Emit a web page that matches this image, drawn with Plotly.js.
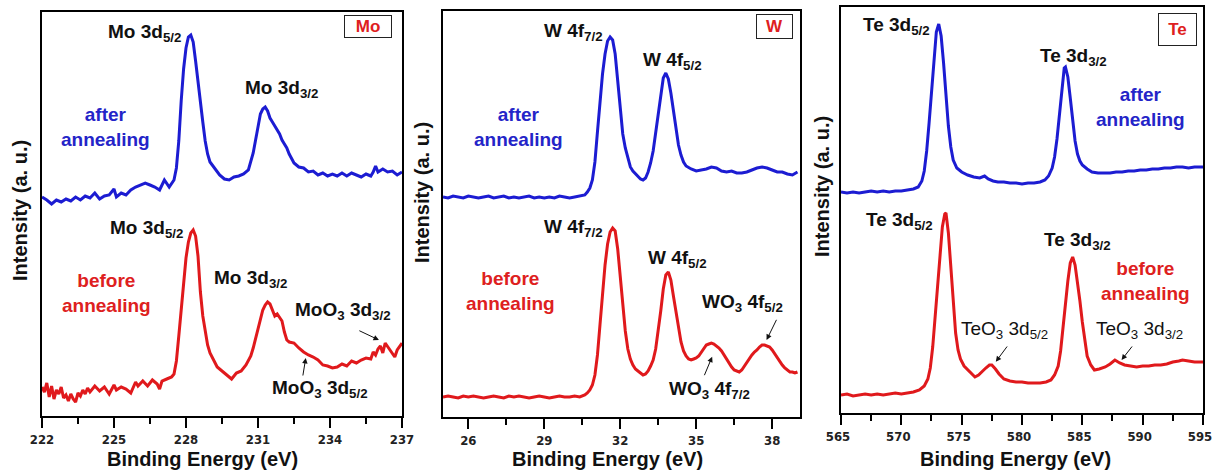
<!DOCTYPE html>
<html>
<head>
<meta charset="utf-8">
<script src="https://cdn.plot.ly/plotly-3.0.1.min.js"></script>
<style>
  html, body { margin: 0; padding: 0; background: #fff; }
  #chart { width: 1212px; height: 471px; }
</style>
</head>
<body>
<div id="chart"></div>
<script>
// ---- Mo 3d region (binding energy in eV, intensity in arbitrary units) ----
const moAfterEnergy = [222.0,222.2,222.4,222.6,222.8,223.0,223.2,223.4,223.6,223.8,224.0,224.2,224.4,224.6,224.8,225.0,225.1,225.3,225.5,225.7,225.9,226.1,226.3,226.5,226.7,226.9,227.0,227.1,227.3,227.5,227.6,227.7,227.8,227.9,228.0,228.1,228.2,228.3,228.4,228.5,228.6,228.7,228.8,228.9,229.0,229.2,229.4,229.6,229.8,230.0,230.2,230.4,230.6,230.8,230.9,231.0,231.1,231.2,231.3,231.4,231.5,231.6,231.7,231.8,231.9,232.0,232.1,232.2,232.3,232.4,232.5,232.7,232.9,233.1,233.3,233.5,233.7,233.9,234.1,234.3,234.5,234.7,234.9,235.1,235.3,235.5,235.7,235.8,235.9,236.0,236.2,236.4,236.6,236.8,237.0];
const moAfter = [219,216,212,216,214,217,215,219,216,220,218,223,217,220,221,227,219,223,221,226,229,231,233,231,229,226,232,236,229,236,248,275,315,347,368,379,381,374,355,333,314,294,275,262,254,247,241,237,236,239,240,242,246,263,277,291,302,307,309,305,298,294,290,287,282,276,272,268,262,257,253,249,248,244,245,241,243,240,242,240,243,240,243,241,239,242,240,244,250,244,247,244,245,241,244];

const moBeforeEnergy = [222.0,222.1,222.2,222.3,222.4,222.5,222.6,222.7,222.8,222.9,223.0,223.1,223.2,223.3,223.4,223.5,223.6,223.7,223.8,223.9,224.0,224.2,224.4,224.6,224.8,225.0,225.1,225.3,225.5,225.7,225.9,226.0,226.2,226.4,226.6,226.8,226.9,227.0,227.2,227.4,227.5,227.6,227.7,227.8,227.9,228.0,228.1,228.2,228.3,228.4,228.5,228.6,228.7,228.8,228.9,229.0,229.1,229.2,229.3,229.5,229.7,229.9,230.1,230.3,230.5,230.7,230.8,230.9,231.0,231.1,231.2,231.3,231.4,231.5,231.6,231.7,231.8,231.9,232.0,232.1,232.2,232.3,232.5,232.7,232.9,233.1,233.3,233.5,233.7,233.9,234.1,234.3,234.5,234.7,234.9,235.1,235.3,235.5,235.7,235.8,235.9,236.0,236.1,236.2,236.3,236.5,236.7,236.8,236.9,237.0];
const moBefore = [29,24,33,19,30,17,26,22,29,18,21,15,22,17,14,23,20,26,22,28,24,30,25,29,22,31,26,29,27,23,34,30,35,30,36,32,27,35,37,39,42,55,80,108,135,158,174,183,186,180,160,124,100,84,71,63,58,53,49,45,41,37,43,45,51,60,68,78,88,98,106,111,114,112,106,100,102,99,95,84,76,74,73,68,64,61,59,56,51,50,48,49,52,50,55,53,56,58,57,64,61,67,70,63,73,66,59,66,70,73];

// ---- W 4f region ----
const wAfterEnergy = [25.0,25.2,25.4,25.6,25.8,26.0,26.2,26.4,26.6,26.8,27.0,27.2,27.4,27.6,27.8,28.0,28.2,28.4,28.6,28.8,29.0,29.2,29.4,29.6,29.8,30.0,30.2,30.4,30.6,30.7,30.8,30.9,31.0,31.1,31.2,31.3,31.4,31.5,31.6,31.7,31.8,31.9,32.0,32.1,32.2,32.3,32.4,32.5,32.6,32.7,32.8,32.9,33.0,33.1,33.2,33.3,33.4,33.5,33.6,33.7,33.8,33.9,34.0,34.1,34.2,34.3,34.4,34.5,34.6,34.8,35.0,35.2,35.4,35.6,35.8,36.0,36.2,36.4,36.6,36.8,37.0,37.2,37.4,37.6,37.8,38.0,38.2,38.4,38.6,38.8,39.0];
const wAfter = [220,219,221,220,219,221,220,219,220,221,219,220,221,219,220,219,220,221,219,220,219,220,219,221,220,219,220,221,222,225,229,237,255,285,315,343,363,376,380,377,363,336,305,283,269,258,250,246,243,240,238,237,239,245,254,266,285,306,325,339,344,338,324,308,289,272,262,255,251,248,246,247,248,250,249,246,245,246,244,244,245,247,249,250,249,247,245,245,243,242,245];

const wBeforeEnergy = [25.0,25.2,25.4,25.6,25.8,26.0,26.2,26.4,26.6,26.8,27.0,27.2,27.4,27.6,27.8,28.0,28.2,28.4,28.6,28.8,29.0,29.2,29.4,29.6,29.8,30.0,30.2,30.4,30.6,30.7,30.8,30.9,31.0,31.1,31.2,31.3,31.4,31.5,31.6,31.7,31.8,31.9,32.0,32.1,32.2,32.3,32.4,32.5,32.6,32.7,32.8,32.9,33.0,33.1,33.2,33.3,33.4,33.5,33.6,33.7,33.8,33.9,34.0,34.1,34.2,34.3,34.4,34.5,34.6,34.7,34.8,34.9,35.0,35.1,35.2,35.3,35.4,35.5,35.6,35.7,35.8,35.9,36.0,36.1,36.2,36.3,36.4,36.5,36.6,36.7,36.8,36.9,37.0,37.1,37.2,37.3,37.4,37.5,37.6,37.7,37.8,37.9,38.0,38.1,38.2,38.3,38.4,38.5,38.6,38.7,38.8,38.9,39.0];
const wBefore = [20,21,20,19,21,20,21,20,19,20,21,20,19,21,20,21,20,19,20,21,20,19,20,21,20,20,21,20,22,24,27,32,42,62,92,122,152,173,185,189,186,168,138,110,86,68,58,52,48,46,44,42,43,46,51,57,68,85,106,128,142,145,137,121,104,88,75,66,61,58,57,58,59,61,65,69,72,73,74,73,71,69,66,62,57,53,50,47,46,45,47,51,54,58,62,65,67,70,72,72,71,70,67,63,59,55,52,49,47,45,45,44,45];

// ---- Te 3d region ----
const teAfterEnergy = [565.0,565.5,566.0,566.5,567.0,567.5,568.0,568.5,569.0,569.5,570.0,570.5,571.0,571.4,571.7,571.9,572.1,572.3,572.5,572.7,572.9,573.1,573.3,573.5,573.7,573.9,574.1,574.3,574.6,575.0,575.5,576.0,576.5,576.9,577.2,577.6,578.0,578.5,579.0,579.5,580.0,580.5,581.0,581.5,581.9,582.2,582.5,582.7,582.9,583.1,583.3,583.5,583.6,583.8,584.0,584.2,584.4,584.6,584.8,585.0,585.4,585.8,586.3,586.8,587.3,587.8,588.3,588.8,589.3,589.8,590.3,590.8,591.3,591.8,592.3,592.8,593.3,593.8,594.3,595.0];
const teAfter = [221,220,221,220,221,222,221,222,221,222,222,223,224,226,232,242,262,290,323,356,381,389,377,350,316,287,266,253,245,241,238,236,235,237,234,232,231,231,230,230,229,230,230,231,233,237,245,256,274,298,327,345,346,336,315,293,272,259,252,248,244,241,240,240,240,241,241,242,242,243,243,244,244,245,245,246,246,245,246,246];

const teBeforeEnergy = [565.0,565.5,566.0,566.5,567.0,567.5,568.0,568.5,569.0,569.5,570.0,570.5,571.0,571.5,571.9,572.2,572.4,572.6,572.8,573.0,573.2,573.4,573.6,573.7,573.9,574.1,574.3,574.5,574.7,574.9,575.2,575.5,575.8,576.1,576.4,576.7,577.0,577.3,577.5,577.8,578.1,578.5,579.0,579.5,580.0,580.5,581.0,581.5,582.0,582.4,582.7,583.0,583.2,583.4,583.6,583.8,584.0,584.2,584.4,584.6,584.8,585.0,585.2,585.4,585.7,586.0,586.4,586.9,587.3,587.7,588.1,588.5,589.0,589.5,590.0,590.5,591.0,591.5,592.0,592.5,593.0,593.3,593.8,594.3,595.0];
const teBefore = [18,19,17,18,19,18,19,18,19,20,19,20,21,23,27,34,45,66,96,130,162,186,199,200,180,146,110,80,63,54,47,43,39,36,38,42,45,48,48,44,39,34,32,31,31,30,30,30,31,33,38,47,62,86,110,132,150,156,148,132,112,91,72,57,48,43,44,46,49,53,50,48,47,46,47,47,48,48,49,51,52,53,52,51,51];

const X_TITLE = 'Binding Energy (eV)';
const Y_TITLE = 'Intensity (a. u.)';

const BLUE = '#1c1cd2';
const RED = '#e0191c';
const BLUE_TEXT = '#2424c8';
const RED_TEXT = '#de2020';
const TEXT_FONT = 'Liberation Sans, Arial, Helvetica, sans-serif';
const TICK_FONT = 'Liberation Sans Narrow, Arial Narrow, DejaVu Sans Condensed, sans-serif';

function curve(x, y, color, xa, ya) {
  return { type: 'scatter', mode: 'lines', x: x, y: y, xaxis: xa, yaxis: ya,
           line: { color: color, width: 3 }, hoverinfo: 'skip', showlegend: false };
}

function energyAxis(range, tick0, dtick, minorDtick, domain, anchor, shift) {
  return {
    range: range, domain: domain, anchor: anchor,
    tickmode: 'linear', tick0: tick0, dtick: dtick,
    ticks: 'outside', ticklen: 10, tickwidth: 2, tickcolor: '#000',
    ticklabeloverflow: 'allow', ticklabelshift: shift || 0,
    minor: { ticks: 'outside', tick0: tick0, dtick: minorDtick, ticklen: 6, tickwidth: 2, tickcolor: '#000', showgrid: false },
    showline: true, linewidth: 2, linecolor: '#000', mirror: true,
    showgrid: false, zeroline: false, fixedrange: true, automargin: false,
    tickfont: { family: TICK_FONT, size: 13, color: '#222', weight: 'bold' }
  };
}

function intensityAxis(top, domain, anchor) {
  return {
    range: [0, top], domain: domain, anchor: anchor,
    showline: true, linewidth: 2, linecolor: '#000', mirror: true,
    ticks: '', showticklabels: false, showgrid: false, zeroline: false,
    fixedrange: true, automargin: false
  };
}

// x titles sit on the bottom edge of the page; y titles are centred on a page position
function xTitle(px, text) {
  return { xref: 'paper', yref: 'paper', x: px / 1212, y: 0, text: text,
           showarrow: false, xanchor: 'center', yanchor: 'bottom', borderpad: 0,
           font: { family: TEXT_FONT, size: 20, color: '#111', weight: 'bold' } };
}

function yTitle(px, py, text) {
  return { xref: 'paper', yref: 'paper', x: px / 1212, y: 1 - py / 471, text: text,
           showarrow: false, xanchor: 'center', yanchor: 'middle', textangle: -90,
           font: { family: TEXT_FONT, size: 20, color: '#111', weight: 'bold' } };
}

function label(xr, yr, x, y, text, weight) {
  return { xref: xr, yref: yr, x: x, y: y, text: text, showarrow: false,
           xanchor: 'center', yanchor: 'middle', align: 'center',
           font: { family: TEXT_FONT, size: 19, color: '#111', weight: weight || 'bold' } };
}

function note(xr, yr, x, y, text, color) {
  return { xref: xr, yref: yr, x: x, y: y, text: text, showarrow: false,
           xanchor: 'center', yanchor: 'middle', align: 'center',
           font: { family: TEXT_FONT, size: 19, color: color, weight: 'bold' } };
}

function pointer(xr, yr, hx, hy, tx, ty) {
  return { xref: xr, yref: yr, axref: xr, ayref: yr, x: hx, y: hy, ax: tx, ay: ty,
           text: '', showarrow: true, arrowhead: 2, arrowsize: 1.1, arrowwidth: 1, arrowcolor: '#111' };
}

function tag(xr, yr, x, y, text, w, h) {
  return { xref: xr, yref: yr, x: x, y: y, text: text, showarrow: false,
           xanchor: 'center', yanchor: 'middle', width: w, height: h, align: 'center', valign: 'middle',
           bordercolor: '#222', borderwidth: 1, borderpad: 0, bgcolor: '#fff',
           font: { family: TEXT_FONT, size: 17, color: RED_TEXT, weight: 'bold' } };
}

const traces = [
  curve(moAfterEnergy, moAfter, BLUE, 'x', 'y'),
  curve(moBeforeEnergy, moBefore, RED, 'x', 'y'),
  curve(wAfterEnergy, wAfter, BLUE, 'x2', 'y2'),
  curve(wBeforeEnergy, wBefore, RED, 'x2', 'y2'),
  curve(teAfterEnergy, teAfter, BLUE, 'x3', 'y3'),
  curve(teBeforeEnergy, teBefore, RED, 'x3', 'y3')
];

const annotations = [
  // axis titles
  xTitle(202, X_TITLE),
  xTitle(607, X_TITLE),
  xTitle(1015, X_TITLE),
  yTitle(20, 211, Y_TITLE),
  yTitle(422, 193, Y_TITLE),
  yTitle(822, 187, Y_TITLE),
  // Mo panel
  label('x', 'y', 226.26, 383, 'Mo 3d<sub>5/2</sub>'),
  label('x', 'y', 231.99, 327, 'Mo 3d<sub>3/2</sub>'),
  note('x', 'y', 224.63, 289, 'after<br>annealing', BLUE_TEXT),
  label('x', 'y', 226.35, 187, 'Mo 3d<sub>5/2</sub>'),
  label('x', 'y', 230.69, 137, 'Mo 3d<sub>3/2</sub>'),
  note('x', 'y', 224.67, 123, 'before<br>annealing', RED_TEXT),
  label('x', 'y', 234.54, 105, 'MoO<sub>3</sub> 3d<sub>3/2</sub>'),
  pointer('x', 'y', 236.04, 76, 235.16, 86),
  label('x', 'y', 233.58, 27, 'MoO<sub>3</sub> 3d<sub>5/2</sub>'),
  pointer('x', 'y', 232.99, 58, 232.86, 39),
  tag('x', 'y', 235.58, 389.5, 'Mo', 46, 21),
  // W panel
  label('x2', 'y2', 30.14, 385, 'W 4f<sub>7/2</sub>'),
  label('x2', 'y2', 34.06, 355.5, 'W 4f<sub>5/2</sub>'),
  note('x2', 'y2', 28.0, 290, 'after<br>annealing', BLUE_TEXT),
  label('x2', 'y2', 30.16, 189, 'W 4f<sub>7/2</sub>'),
  label('x2', 'y2', 34.26, 158, 'W 4f<sub>5/2</sub>'),
  note('x2', 'y2', 27.65, 126, 'before<br>annealing', RED_TEXT),
  label('x2', 'y2', 36.83, 114, 'WO<sub>3</sub> 4f<sub>5/2</sub>'),
  pointer('x2', 'y2', 37.78, 77, 38.2, 98.7),
  label('x2', 'y2', 35.52, 27, 'WO<sub>3</sub> 4f<sub>7/2</sub>'),
  pointer('x2', 'y2', 35.63, 60.3, 35.30, 40.3),
  tag('x2', 'y2', 38.11, 390.5, 'W', 35, 23),
  // Te panel
  label('x3', 'y3', 569.58, 387, 'Te 3d<sub>5/2</sub>'),
  label('x3', 'y3', 584.25, 356, 'Te 3d<sub>3/2</sub>'),
  note('x3', 'y3', 589.83, 306, 'after<br>annealing', BLUE_TEXT),
  label('x3', 'y3', 569.83, 192, 'Te 3d<sub>5/2</sub>'),
  label('x3', 'y3', 584.58, 172, 'Te 3d<sub>3/2</sub>'),
  note('x3', 'y3', 590.25, 132, 'before<br>annealing', RED_TEXT),
  label('x3', 'y3', 578.58, 83, 'TeO<sub>3</sub> 3d<sub>5/2</sub>', 'normal'),
  pointer('x3', 'y3', 577.83, 51.3, 578.86, 68),
  label('x3', 'y3', 589.75, 83, 'TeO<sub>3</sub> 3d<sub>3/2</sub>', 'normal'),
  pointer('x3', 'y3', 588.25, 53, 589.22, 68),
  tag('x3', 'y3', 592.88, 383.5, 'Te', 37, 31)
];

const layout = {
  width: 1212, height: 471,
  margin: { l: 0, r: 0, t: 0, b: 0, autoexpand: false },
  paper_bgcolor: '#fff', plot_bgcolor: '#fff',
  showlegend: false,
  xaxis:  energyAxis([222, 237], 222, 3, 1.5, [0.03465, 0.33168], 'y'),
  yaxis:  intensityAxis(404, [0.11677, 0.97452], 'x'),
  xaxis2: energyAxis([25, 39.1], 26, 3, 1.5, [0.36551, 0.66007], 'y2'),
  yaxis2: intensityAxis(406, [0.11465, 0.97665], 'x2'),
  xaxis3: energyAxis([565, 595], 565, 5, 2.5, [0.69389, 0.99257], 'y3', -3),
  yaxis3: intensityAxis(406, [0.12314, 0.98514], 'x3'),
  annotations: annotations
};

Plotly.newPlot('chart', traces, layout, { displayModeBar: false, staticPlot: true });
</script>
</body>
</html>
